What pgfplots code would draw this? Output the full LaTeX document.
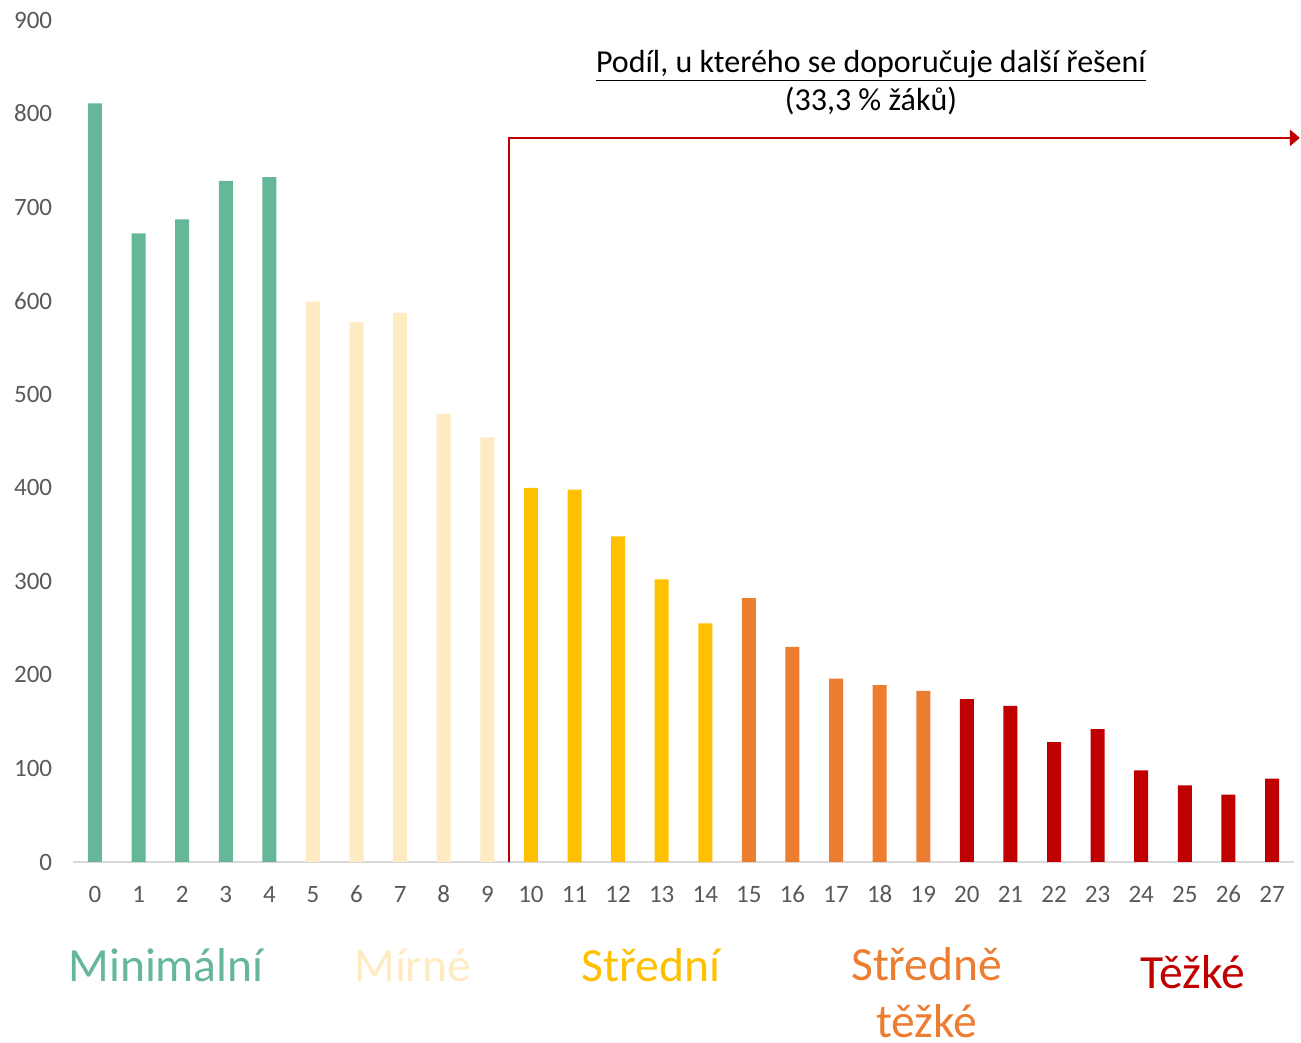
\documentclass[border=0pt]{standalone}
\usepackage{pgfplots}
\pgfplotsset{compat=1.18}
\usepackage{fontspec}
\setmainfont{Carlito}
\usetikzlibrary{arrows.meta}
\definecolor{cgreen}{HTML}{66B698}
\definecolor{clight}{HTML}{FFEBC2}
\definecolor{cyellow}{HTML}{FFC000}
\definecolor{corange}{HTML}{ED7D31}
\definecolor{cred}{HTML}{C00000}
\definecolor{ctick}{HTML}{595959}
\definecolor{caxis}{HTML}{D9D9D9}
\begin{document}
\begin{tikzpicture}
\begin{axis}[
  scale only axis,
  width=610.3pt, height=421pt,
  xmin=-0.5, xmax=27.5, ymin=0, ymax=900,
  xtick={0,...,27},
  ytick={0,100,...,900},
  axis line style={draw=none},
  major tick length=0pt,
  clip=false,
  /pgf/number format/assume math mode=true,
  ticklabel style={font=\fontsize{12.5}{14}\selectfont, color=ctick},
  yticklabel style={xshift=-7pt},
  xticklabel style={yshift=-9pt, text height=1.6ex, text depth=0.2ex},
]
\draw[caxis, line width=0.8pt] (rel axis cs:0,0) -- (rel axis cs:1,0);
\addplot[ybar, bar width=7pt, bar shift=0pt, fill=cgreen, draw=none] coordinates {
(0,811) (1,672) (2,687) (3,728) (4,732)};
\addplot[ybar, bar width=7pt, bar shift=0pt, fill=clight, draw=none] coordinates {
(5,599) (6,577) (7,587) (8,479) (9,454)};
\addplot[ybar, bar width=7pt, bar shift=0pt, fill=cyellow, draw=none] coordinates {
(10,400) (11,398) (12,348) (13,302) (14,255)};
\addplot[ybar, bar width=7pt, bar shift=0pt, fill=corange, draw=none] coordinates {
(15,282) (16,230) (17,196) (18,189) (19,183)};
\addplot[ybar, bar width=7pt, bar shift=0pt, fill=cred, draw=none] coordinates {
(20,174) (21,167) (22,128) (23,142) (24,98) (25,82) (26,72) (27,89)};
\addplot[cred, line width=1.2pt, sharp plot, mark=none, -{Triangle[length=5pt,width=8pt]}] coordinates {
(9.5,0) (9.5,774) (27.64,774)};
\node[font=\fontsize{16}{19}\selectfont, align=center, anchor=center] at (axis cs:17.8,833)
  {\underline{Podíl, u kterého se doporučuje další řešení}\\(33,3 \% žáků)};
\node[font=\fontsize{23.8}{28.5}\selectfont, text=cgreen] at (axis cs:1.63,-110) {Minimální};
\node[font=\fontsize{23.8}{28.5}\selectfont, text=clight] at (axis cs:7.29,-110) {Mírné};
\node[font=\fontsize{23.8}{28.5}\selectfont, text=cyellow] at (axis cs:12.75,-110) {Střední};
\node[font=\fontsize{23.8}{28.5}\selectfont, text=corange, align=center, inner sep=0pt] at (axis cs:19.08,-139.5) {Středně\\těžké};
\node[font=\fontsize{23.8}{28.5}\selectfont, text=cred] at (axis cs:25.18,-117.6) {Těžké};
\coordinate (bl) at (rel axis cs:0,0);
\coordinate (tr) at (rel axis cs:1,1);
\end{axis}
\pgfresetboundingbox
\path[use as bounding box] ([shift={(-36.6pt,-90.5pt)}]bl) rectangle ([shift={(3.6pt,10pt)}]tr);
\end{tikzpicture}
\end{document}
